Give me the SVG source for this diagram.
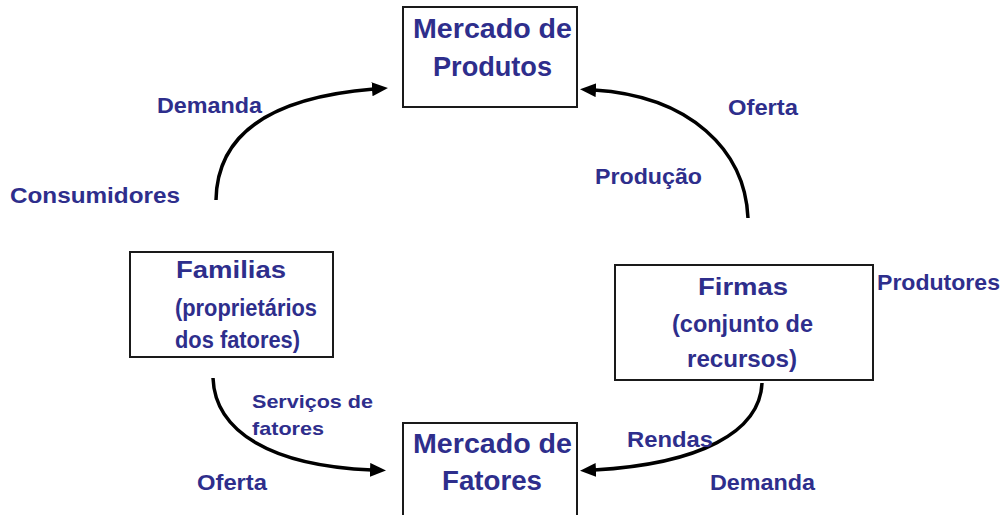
<svg xmlns="http://www.w3.org/2000/svg" width="1006" height="515" viewBox="0 0 1006 515">
<style>
.box{fill:#ffffff;stroke:#1a1a1a;stroke-width:2}
.t{font-family:"Liberation Sans",Arial,sans-serif;font-weight:bold;fill:#2e2e8c}
.big{font-size:28px}
.mid{font-size:23px}
.lbl{font-size:22px}
.sm{font-size:19px}
.c{stroke:#000;stroke-width:3.5;fill:none;marker-end:url(#ah)}
</style>
<defs>
<marker id="ah" markerUnits="userSpaceOnUse" markerWidth="20" markerHeight="16" refX="2" refY="7" orient="auto">
<path d="M0,0 L16,7 L0,14 Z" fill="#000"/>
</marker>
</defs>
<rect width="1006" height="515" fill="#ffffff"/>
<g id="connectors">
<path class="c" d="M216,200 C217,140 262,98 374,89"/>
<path class="c" d="M748,218 C745,150 690,96 594,90"/>
<path class="c" d="M213,378 C215,432 272,466 372,470"/>
<path class="c" d="M762,383 C760,432 700,464 594,470"/>
</g>
<g id="mercado-produtos">
<rect class="box" x="403" y="7" width="174" height="100"/>
<text class="t big" x="413" y="38" textLength="159" lengthAdjust="spacingAndGlyphs">Mercado de</text>
<text class="t big" x="433" y="76" textLength="119" lengthAdjust="spacingAndGlyphs">Produtos</text>
</g>
<g id="familias">
<rect class="box" x="130" y="252" width="203" height="105"/>
<text class="t mid" x="176" y="278" textLength="110" lengthAdjust="spacingAndGlyphs">Familias</text>
<text class="t mid" x="175" y="316" textLength="142" lengthAdjust="spacingAndGlyphs">(proprietários</text>
<text class="t mid" x="175" y="348" textLength="125" lengthAdjust="spacingAndGlyphs">dos fatores)</text>
</g>
<g id="firmas">
<rect class="box" x="615" y="265" width="258" height="115"/>
<text class="t mid" x="698" y="295" textLength="90" lengthAdjust="spacingAndGlyphs">Firmas</text>
<text class="t mid" x="672" y="332" textLength="141" lengthAdjust="spacingAndGlyphs">(conjunto de</text>
<text class="t mid" x="687" y="367" textLength="110" lengthAdjust="spacingAndGlyphs">recursos)</text>
</g>
<g id="mercado-fatores">
<rect class="box" x="403" y="423" width="174" height="100"/>
<text class="t big" x="413" y="453" textLength="159" lengthAdjust="spacingAndGlyphs">Mercado de</text>
<text class="t big" x="442" y="490" textLength="100" lengthAdjust="spacingAndGlyphs">Fatores</text>
</g>
<g id="labels">
<text class="t lbl" x="157" y="113" textLength="105" lengthAdjust="spacingAndGlyphs">Demanda</text>
<text class="t lbl" x="10" y="203" textLength="170" lengthAdjust="spacingAndGlyphs">Consumidores</text>
<text class="t lbl" x="728" y="115" textLength="70" lengthAdjust="spacingAndGlyphs">Oferta</text>
<text class="t lbl" x="595" y="184" textLength="107" lengthAdjust="spacingAndGlyphs">Produção</text>
<text class="t lbl" x="877" y="290" textLength="123" lengthAdjust="spacingAndGlyphs">Produtores</text>
<text class="t sm" x="252" y="408" textLength="121" lengthAdjust="spacingAndGlyphs">Serviços de</text>
<text class="t sm" x="252" y="435" textLength="72" lengthAdjust="spacingAndGlyphs">fatores</text>
<text class="t lbl" x="197" y="490" textLength="70" lengthAdjust="spacingAndGlyphs">Oferta</text>
<text class="t lbl" x="627" y="447" textLength="86" lengthAdjust="spacingAndGlyphs">Rendas</text>
<text class="t lbl" x="710" y="490" textLength="105" lengthAdjust="spacingAndGlyphs">Demanda</text>
</g>
</svg>
